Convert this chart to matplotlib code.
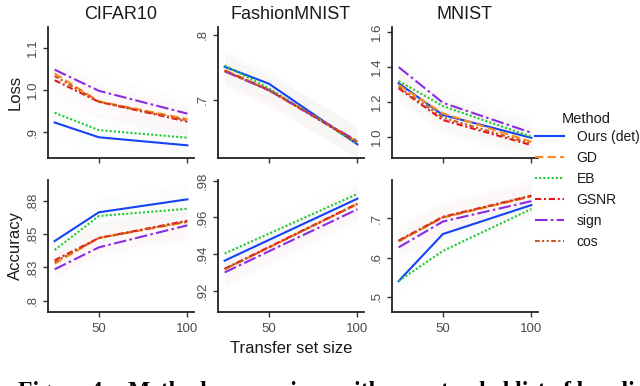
import matplotlib
matplotlib.use("Agg")
import matplotlib.pyplot as plt
from matplotlib.lines import Line2D
import numpy as np

plt.rcParams['font.family'] = ['Liberation Sans', 'DejaVu Sans']

sizes = [25, 50, 100]
datasets = ["CIFAR10", "FashionMNIST", "MNIST"]
methods = ["Ours (det)", "GD", "EB", "GSNR", "sign", "cos"]

loss = {
    "CIFAR10": {
        "Ours (det)": [0.923, 0.888, 0.869],
        "GD": [1.039, 0.973, 0.931],
        "EB": [0.946, 0.905, 0.887],
        "GSNR": [1.023, 0.972, 0.925],
        "sign": [1.048, 0.998, 0.944],
        "cos": [1.033, 0.972, 0.928],
    },
    "FashionMNIST": {
        "Ours (det)": [0.751, 0.725, 0.632],
        "GD": [0.746, 0.716, 0.636],
        "EB": [0.753, 0.718, 0.633],
        "GSNR": [0.745, 0.715, 0.635],
        "sign": [0.744, 0.715, 0.637],
        "cos": [0.745, 0.715, 0.636],
    },
    "MNIST": {
        "Ours (det)": [1.307, 1.125, 0.994],
        "GD": [1.297, 1.134, 0.971],
        "EB": [1.320, 1.176, 1.000],
        "GSNR": [1.278, 1.096, 0.952],
        "sign": [1.400, 1.195, 1.023],
        "cos": [1.285, 1.110, 0.960],
    },
}

accuracy = {
    "CIFAR10": {
        "Ours (det)": [0.8447, 0.8663, 0.8760],
        "GD": [0.8278, 0.8470, 0.8590],
        "EB": [0.8380, 0.8635, 0.8689],
        "GSNR": [0.8303, 0.8470, 0.8600],
        "sign": [0.8235, 0.8400, 0.8565],
        "cos": [0.8290, 0.8470, 0.8595],
    },
    "FashionMNIST": {
        "Ours (det)": [0.9364, 0.9477, 0.9702],
        "GD": [0.9317, 0.9436, 0.9673],
        "EB": [0.9403, 0.9511, 0.9728],
        "GSNR": [0.9320, 0.9438, 0.9675],
        "sign": [0.9300, 0.9415, 0.9644],
        "cos": [0.9318, 0.9436, 0.9673],
    },
    "MNIST": {
        "Ours (det)": [0.540, 0.660, 0.734],
        "GD": [0.641, 0.702, 0.756],
        "EB": [0.540, 0.617, 0.724],
        "GSNR": [0.6435, 0.704, 0.758],
        "sign": [0.626, 0.692, 0.744],
        "cos": [0.642, 0.703, 0.757],
    },
}

loss_ticks = {
    "CIFAR10": ([0.9, 1.0, 1.1], [".9", "1.0", "1.1"]),
    "FashionMNIST": ([0.7, 0.8], [".7", ".8"]),
    "MNIST": ([1.0, 1.2, 1.4, 1.6], ["1.0", "1.2", "1.4", "1.6"]),
}
acc_ticks = {
    "CIFAR10": ([0.8, 0.825, 0.85, 0.875], [".8", ".83", ".85", ".88"]),
    "FashionMNIST": ([0.92, 0.94, 0.96, 0.98], [".92", ".94", ".96", ".98"]),
    "MNIST": ([0.5, 0.6, 0.7], [".5", ".6", ".7"]),
}
loss_lims = {"CIFAR10": (0.839, 1.149), "FashionMNIST": (0.611, 0.812), "MNIST": (0.878, 1.63)}
acc_lims = {"CIFAR10": (0.7915, 0.8905), "FashionMNIST": (0.9084, 0.9804), "MNIST": (0.461, 0.798)}

colors = {
    "Ours (det)": "#1444F5",
    "GD": "#FF8A1E",
    "EB": "#22C832",
    "GSNR": "#E8141C",
    "sign": "#8A2BE2",
    "cos": "#C2581A",
}
styles = {
    "Ours (det)": "-",
    "GD": (0, (4, 2)),
    "EB": (0, (1, 1)),
    "GSNR": (0, (3, 1.3, 1, 1.3)),
    "sign": (0, (6, 1.6, 1.2, 1.6)),
    "cos": (0, (2.2, 1.2, 1, 1.2, 1, 1.2)),
}
band = 0.12

W, H = 640, 386
fig = plt.figure(figsize=(W / 100, H / 100), dpi=100)

xcols = [(48, 194), (218, 364), (392, 538)]
rows = [(27, 158), (180, 312)]

def px_axes(x0, x1, y0, y1):
    return fig.add_axes([x0 / W, 1 - y1 / H, (x1 - x0) / W, (y1 - y0) / H])

tick_col = "#4D4D4D"
for r, (y0, y1) in enumerate(rows):
    data = loss if r == 0 else accuracy
    ticks = loss_ticks if r == 0 else acc_ticks
    lims = loss_lims if r == 0 else acc_lims
    for c, (x0, x1) in enumerate(xcols):
        ds = datasets[c]
        ax = px_axes(x0, x1, y0, y1)
        lo, hi = lims[ds]
        bw = band * (hi - lo)
        for m in methods:
            v = np.array(data[ds][m])
            ax.fill_between(sizes, v - bw, v + bw, color=colors[m], alpha=0.008, lw=0)
        for m in methods:
            ax.plot(sizes, data[ds][m], color=colors[m], linestyle=styles[m], lw=1.5)
        ax.set_xlim(21.25, 103.75)
        ax.set_ylim(lo, hi)
        ax.set_xticks([50, 100])
        if r == 1:
            ax.set_xticklabels(["50", "100"])
        else:
            ax.set_xticklabels([])
        tv, tl = ticks[ds]
        ax.set_yticks(tv)
        ax.set_yticklabels(tl, rotation=90, va="center")
        for s in ["top", "right"]:
            ax.spines[s].set_visible(False)
        for s in ["left", "bottom"]:
            ax.spines[s].set_linewidth(1.3)
            ax.spines[s].set_color("#222222")
        ax.tick_params(axis="both", length=3.5, width=1.0, color="#333333",
                       labelsize=9.5, labelcolor=tick_col, pad=3)
        ax.tick_params(axis="x", pad=4.5)
        if r == 0:
            ax.set_title(ds, fontsize=13, color="#1A1A1A", pad=6)
        if c == 0:
            ax.set_ylabel("Loss" if r == 0 else "Accuracy", fontsize=12, color="#1A1A1A",
                          labelpad=3)
        if r == 1 and c == 1:
            ax.set_xlabel("Transfer set size", fontsize=12, color="#1A1A1A", labelpad=4)

# legend
handles = [Line2D([], [], color=colors[m], linestyle=styles[m], lw=1.5) for m in methods]
fig.text(562 / W, 1 - 119 / H, "Method", fontsize=10.5, color="#1A1A1A",
         ha="left", va="center")
fig.legend(handles, methods, loc="upper left",
           bbox_to_anchor=(535 / W, 1 - 130 / H), frameon=False,
           fontsize=10, handlelength=2.1, handletextpad=0.9,
           labelspacing=0.5, borderaxespad=0, borderpad=0, labelcolor="#1A1A1A")

fig.text(18 / W, 1 - 381.5 / H,
         "Figure 4:   Method comparison with an extended list of baselines for",
         family=["Liberation Serif"], weight="bold", fontsize=17, va="top", ha="left")

fig.savefig("out.png", dpi=100)
